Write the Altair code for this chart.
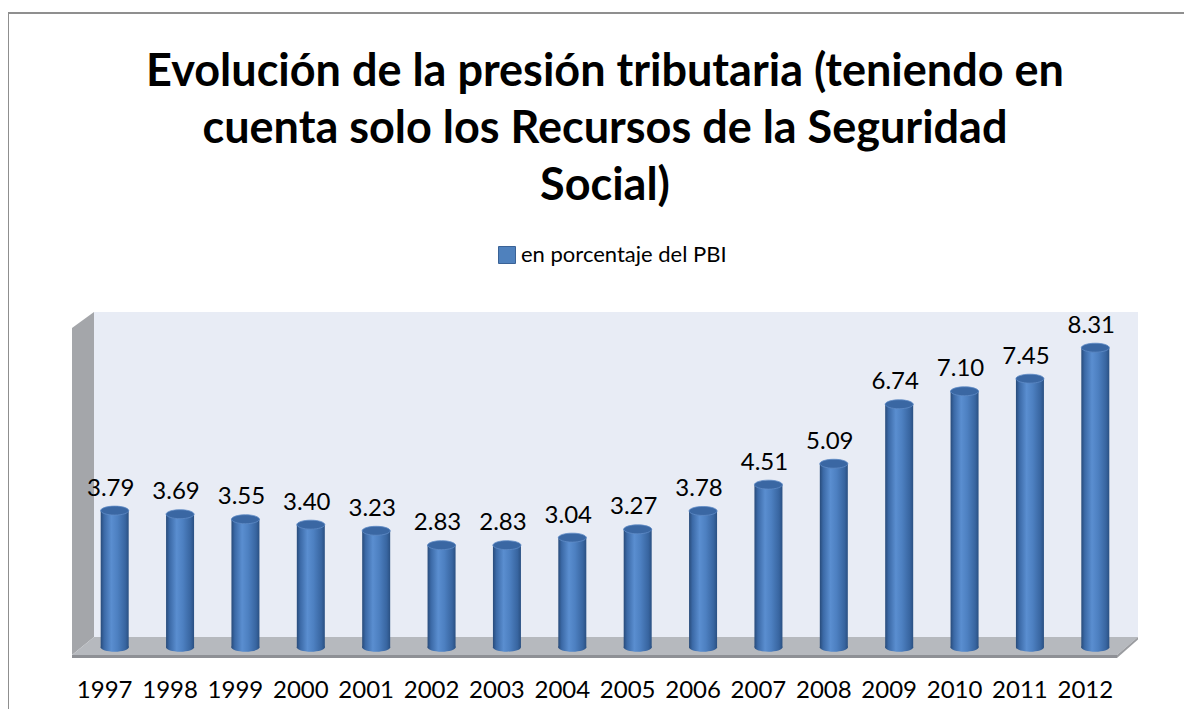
import altair as alt
import pandas as pd

YEARS = ["1997", "1998", "1999", "2000", "2001", "2002", "2003", "2004",
         "2005", "2006", "2007", "2008", "2009", "2010", "2011", "2012"]
VALUES = [3.79, 3.69, 3.55, 3.40, 3.23, 2.83, 2.83, 3.04,
          3.27, 3.78, 4.51, 5.09, 6.74, 7.10, 7.45, 8.31]
SERIES = "en porcentaje del PBI"
TITLE_LINES = ["Evolución de la presión tributaria (teniendo en",
               "cuenta solo los Recursos de la Seguridad",
               "Social)"]

df = pd.DataFrame({"year": YEARS, "value": VALUES, "serie": SERIES})
df["base"] = 0.0

W, H = 1046, 346
FONT = "Lato"

x_enc = alt.X("year:N", sort=YEARS,
              scale=alt.Scale(paddingInner=0, paddingOuter=0),
              axis=alt.Axis(title=None, labelAngle=0, domain=False, ticks=False,
                            labelFont=FONT, labelFontSize=24, labelColor="#000000",
                            labelPadding=20, labelOffset=-10))
y_scale = alt.Scale(domain=[-0.3, 9.3], nice=False, zero=False)
y_enc = alt.Y("value:Q", scale=y_scale, axis=None)
y_base = alt.Y("base:Q", scale=y_scale, axis=None)

one = alt.Data(values=[{"k": 1}])


def deco(path, color):
    return alt.Chart(one).mark_point(
        shape=path, size=4, filled=True, color=color, opacity=1, strokeWidth=0
    ).encode(x=alt.value(0), y=alt.value(0))


border = alt.Chart(one).mark_point(
    shape="M1300,-299 L-74,-299 L-74,430", size=4, filled=False,
    color="#8f8f8f", opacity=1, strokeWidth=2
).encode(x=alt.value(0), y=alt.value(0))

back = deco("M12,0 L1056,0 L1056,325 L12,325 Z", "#E8ECF5")
side = deco("M-10,16 L12,0 L12,325 L-10,343 Z", "#A4A6AA")
floor = deco("M-10,343 L12,325 L1056,325 L1035,343 Z", "#B6B9BE")
floor_front = deco("M-10,343 L1035,343 L1035,346 L-10,346 Z", "#8E9095")
floor_right = deco("M1035,343 L1056,325 L1056,327.5 L1035,346 Z", "#9A9CA0")

grad = alt.Gradient(
    gradient="linear", x1=0, x2=1, y1=0, y2=0,
    stops=[alt.GradientStop(offset=0, color="#284B7A"),
           alt.GradientStop(offset=0.12, color="#3B69A6"),
           alt.GradientStop(offset=0.38, color="#5A8ED0"),
           alt.GradientStop(offset=0.6, color="#4D80C1"),
           alt.GradientStop(offset=0.88, color="#3865A0"),
           alt.GradientStop(offset=1, color="#2A5082")])

ELLIPSE = "M-1,0 A1,0.32,0,1,0,1,0 A1,0.32,0,1,0,-1,0 Z"

base = alt.Chart(df)

bottom_cap = base.mark_point(shape=ELLIPSE, size=784, filled=True, color=grad,
                             opacity=1, strokeWidth=0).encode(
    x=x_enc, y=y_base)

bars = base.mark_bar(size=28, color=grad, strokeWidth=0).encode(
    x=x_enc, y=y_enc, y2=alt.Y2("base:Q"))

top_cap = base.mark_point(shape=ELLIPSE, size=784, filled=True, color="#3A67A3",
                          opacity=1, stroke="#5F8CC6", strokeWidth=0.8).encode(
    x=x_enc, y=y_enc)

legend_layer = base.mark_square(opacity=0, size=1).encode(
    x=x_enc, y=y_enc,
    color=alt.Color("serie:N", scale=alt.Scale(range=["#4F81BD"]),
                    legend=alt.Legend(title=None, orient="none", legendX=414, legendY=-68,
                                      symbolType="square", symbolSize=289,
                                      symbolOpacity=1, symbolStrokeColor="#3A6296",
                                      symbolStrokeWidth=1, labelFont=FONT,
                                      labelFontSize=22, labelColor="#000000",
                                      labelLimit=600, labelOffset=3, padding=0)))

labels = base.mark_text(font=FONT, fontSize=24, baseline="alphabetic", dy=-15, dx=-4,
                        color="#000000").encode(
    x=x_enc, y=y_enc, text=alt.Text("value:Q", format=".2f"))

title_layers = []
for i, line in enumerate(TITLE_LINES):
    title_layers.append(
        alt.Chart(one).mark_text(font=FONT, fontSize=45, fontWeight="bold",
                                 color="#000000", baseline="alphabetic", align="center").encode(
            x=alt.value(W / 2), y=alt.value(-226 + 57 * i), text=alt.value(line)))

chart = alt.layer(
    border, back, side, floor, floor_front, floor_right,
    bottom_cap, bars, top_cap, legend_layer, labels, *title_layers
).properties(
    width=W, height=H,
    autosize=alt.AutoSizeParams(type="none"),
    padding={"left": 74, "top": 304, "right": 56, "bottom": 51},
).configure_view(strokeWidth=0)

chart.save("out.html", embed_options={"renderer": "svg", "actions": False})
